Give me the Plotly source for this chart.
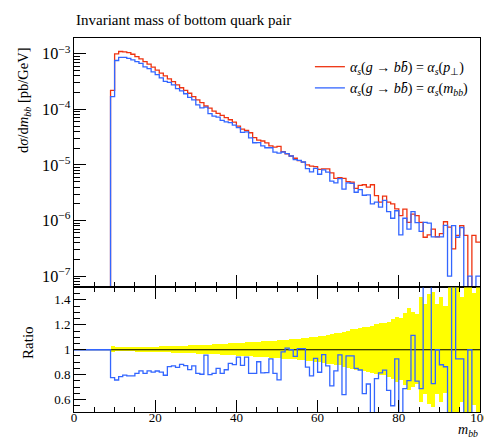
import plotly.graph_objects as go

FONT = "Liberation Serif"

# ---- data: 1 GeV bins from 0 to 100; bins 0..8 are empty ----
bin_edges = list(range(0, 101))
n_empty = 9

# alpha_s(g->bb) = alpha_s(pT)  (m_bb = 9 ... 99)
red_vals = [
    2.19e-4, 1.00e-3, 1.10e-3, 1.08e-3, 1.05e-3, 9.8e-4, 8.9e-4, 8.1e-4, 7.2e-4, 6.5e-4,
    5.75e-4, 5.1e-4, 4.5e-4, 4.0e-4, 3.55e-4, 3.16e-4, 2.75e-4, 2.45e-4, 2.19e-4, 1.95e-4,
    1.70e-4, 1.48e-4, 1.32e-4, 1.15e-4, 1.05e-4, 9.3e-5, 8.5e-5, 7.8e-5, 7.1e-5, 6.5e-5,
    5.9e-5, 5.0e-5, 4.4e-5, 4.2e-5, 3.8e-5, 3.1e-5, 2.8e-5, 2.7e-5, 2.5e-5, 2.2e-5,
    2.1e-5, 2.15e-5, 1.74e-5, 1.58e-5, 1.45e-5, 1.32e-5, 1.20e-5, 1.12e-5, 1.00e-5, 9.5e-6,
    9.3e-6, 8.3e-6, 8.5e-6, 8.5e-6, 7.2e-6, 5.75e-6, 5.9e-6, 5.75e-6, 5.0e-6, 4.9e-6,
    3.8e-6, 4.3e-6, 4.4e-6, 4.0e-6, 4.4e-6, 2.8e-6, 2.15e-6, 2.75e-6, 2.15e-6, 2.0e-6,
    1.62e-6, 1.23e-6, 1.6e-6, 9.3e-7, 1.3e-6, 1.23e-6, 9.3e-7, 5.0e-7, 5.5e-7, 7.0e-7,
    5.1e-7, 5.8e-7, 9.5e-7, 7.6e-7, 3.1e-7, 5.4e-7, 8.1e-7, 5.4e-7, 0.0, 5.4e-7,
    4.1e-7,
]

# alpha_s(g->bb) = alpha_s(m_bb)  (m_bb = 9 ... 99)
blue_vals = [
    1.70e-4, 7.57e-4, 8.62e-4, 8.59e-4, 8.30e-4, 7.74e-4, 7.21e-4, 6.72e-4, 5.83e-4, 5.40e-4,
    4.72e-4, 4.23e-4, 3.69e-4, 3.18e-4, 3.07e-4, 2.75e-4, 2.36e-4, 2.16e-4, 1.91e-4, 1.64e-4,
    1.48e-4, 1.20e-4, 1.06e-4, 1.10e-4, 8.4e-5, 7.53e-5, 7.23e-5, 6.32e-5, 5.96e-5, 5.79e-5,
    5.19e-5, 4.70e-5, 3.85e-5, 3.95e-5, 3.08e-5, 2.51e-5, 2.53e-5, 2.20e-5, 2.04e-5, 2.04e-5,
    1.70e-5, 1.63e-5, 1.71e-5, 1.60e-5, 1.45e-5, 1.25e-5, 1.21e-5, 1.13e-5, 8.6e-6, 7.5e-6,
    8.65e-6, 6.8e-6, 8.16e-6, 7.4e-6, 5.11e-6, 4.77e-6, 5.66e-6, 3.68e-6, 4.75e-6, 4.66e-6,
    3.23e-6, 3.6e-6, 2.85e-6, 2.9e-6, 2.0e-6, 2.15e-6, 1.75e-6, 2.3e-6, 1.45e-6, 1.1e-6,
    1.5e-6, 5.5e-7, 1.1e-6, 7.0e-7, 1.45e-6, 9.2e-7, 6.4e-7, 9.3e-7, 9.0e-7, 5.1e-7,
    5.1e-7, 5.1e-7, 8.2e-7, 1.0e-7, 8.1e-7, 5.0e-7, 7.5e-7, 0.0, 1.0e-7, 0.0,
    1.0e-7,
]

# relative stat. uncertainty of the reference (yellow band), m_bb = 9 ... 99
red_relerr = [
    0.025, 0.015, 0.015, 0.016, 0.016, 0.017, 0.018, 0.018, 0.019, 0.020,
    0.021, 0.022, 0.023, 0.024, 0.025, 0.026, 0.027, 0.028, 0.029, 0.031,
    0.032, 0.034, 0.035, 0.036, 0.038, 0.039, 0.041, 0.043, 0.045, 0.047,
    0.049, 0.051, 0.053, 0.055, 0.057, 0.059, 0.061, 0.063, 0.066, 0.068,
    0.070, 0.072, 0.075, 0.078, 0.080, 0.082, 0.085, 0.090, 0.092, 0.095,
    0.100, 0.105, 0.110, 0.115, 0.120, 0.130, 0.130, 0.140, 0.150, 0.160,
    0.165, 0.170, 0.175, 0.180, 0.190, 0.200, 0.210, 0.210, 0.220, 0.240,
    0.260, 0.250, 0.290, 0.330, 0.300, 0.280, 0.420, 0.360, 0.440, 0.460,
    0.360, 0.420, 0.350, 0.550, 0.700, 0.600, 0.420, 0.600, 0.600, 0.450,
    0.500,
]

RED = "#EE3311"
BLUE = "#3366FF"
TINY = 1e-12

red_all = [0.0] * n_empty + red_vals
blue_all = [0.0] * n_empty + blue_vals

def step_y(vals):
    v = [x if x > 0 else TINY for x in vals]
    return v + [v[-1]]

ratio = []
for r, b in zip(red_all, blue_all):
    ratio.append(b / r if r > 0 else 1.0)

centers = [m + 0.5 for m in range(n_empty, 100)]
band_base = [1 - e for e in red_relerr]
band_h = [2 * e for e in red_relerr]

fig = go.Figure()

leg1 = "<i>α<sub>s</sub></i>(<i>g</i> → <i>bb̄</i>) = <i>α<sub>s</sub></i>(<i>p</i><sub>⊥</sub>)"
leg2 = "<i>α<sub>s</sub></i>(<i>g</i> → <i>bb̄</i>) = <i>α<sub>s</sub></i>(<i>m<sub>bb</sub></i>)"

fig.add_trace(go.Scatter(x=bin_edges, y=step_y(red_all), mode="lines", line_shape="hv",
                         line=dict(color=RED, width=1.3), name=leg1, xaxis="x", yaxis="y"))
fig.add_trace(go.Scatter(x=bin_edges, y=step_y(blue_all), mode="lines", line_shape="hv",
                         line=dict(color=BLUE, width=1.3), name=leg2, xaxis="x", yaxis="y"))

# ratio panel
fig.add_trace(go.Bar(x=centers, base=band_base, y=band_h, width=1.0,
                     marker=dict(color="#FFFF00", line=dict(width=0)),
                     showlegend=False, xaxis="x2", yaxis="y2", hoverinfo="skip"))
fig.add_trace(go.Scatter(x=[0, 100], y=[1, 1], mode="lines",
                         line=dict(color="black", width=1.1),
                         showlegend=False, xaxis="x2", yaxis="y2"))
fig.add_trace(go.Scatter(x=bin_edges, y=ratio + [ratio[-1]], mode="lines", line_shape="hv",
                         line=dict(color=BLUE, width=1.3),
                         showlegend=False, xaxis="x2", yaxis="y2"))

axis_common = dict(showline=True, linecolor="black", linewidth=1, ticks="inside",
                   tickcolor="black", showgrid=False, zeroline=False,
                   tickfont=dict(family=FONT, size=13, color="black"))

fig.update_layout(
    width=492, height=440,
    margin=dict(l=66, r=10, t=30, b=36),
    paper_bgcolor="white", plot_bgcolor="white",
    font=dict(family=FONT, size=14, color="black"),
    barmode="overlay", bargap=0,
    xaxis=dict(axis_common, domain=[0, 1], range=[0, 100], anchor="y", mirror=True,
               showticklabels=False, tick0=0, dtick=20, ticklen=12,
               minor=dict(ticks="inside", dtick=5, ticklen=5, tickcolor="black")),
    yaxis=dict(axis_common, domain=[0.333, 1], type="log", range=[-7.204, -2.716],
               anchor="x", mirror=True, dtick=1, ticklen=12, exponentformat="power",
               minor=dict(ticks="inside", dtick="D1", ticklen=6, tickcolor="black")),
    xaxis2=dict(axis_common, domain=[0, 1], range=[0, 100], anchor="y2", mirror="allticks",
                tick0=0, dtick=20, ticklen=12, ticklabelstandoff=-7,
                minor=dict(ticks="inside", dtick=5, ticklen=5, tickcolor="black")),
    yaxis2=dict(axis_common, domain=[0, 0.333], range=[0.5, 1.5], anchor="x2", mirror=True,
                tickvals=[0.6, 0.8, 1.0, 1.2, 1.4], ticktext=["0.6", "0.8", "1", "1.2", "1.4"],
                ticklen=12,
                minor=dict(ticks="inside", tick0=0.5, dtick=0.05, ticklen=6, tickcolor="black")),
    legend=dict(x=0.985, xanchor="right", y=0.965, yanchor="top",
                bgcolor="rgba(0,0,0,0)", font=dict(family=FONT, size=14),
                tracegroupgap=0, itemwidth=30),
    showlegend=True,
)

fig.add_annotation(text="Invariant mass of bottom quark pair", xref="paper", yref="paper",
                   x=0, y=1.048, xanchor="left", yanchor="middle", showarrow=False,
                   font=dict(family=FONT, size=15))
fig.add_annotation(text="d<i>σ</i>/d<i>m<sub>bb</sub></i> [pb/GeV]", xref="paper", yref="paper",
                   x=-0.125, y=0.835, xanchor="center", yanchor="middle", textangle=-90,
                   showarrow=False, font=dict(family=FONT, size=14.5))
fig.add_annotation(text="Ratio", xref="paper", yref="paper",
                   x=-0.113, y=0.185, xanchor="center", yanchor="middle", textangle=-90,
                   showarrow=False, font=dict(family=FONT, size=15))
fig.add_annotation(text="<i>m<sub>bb</sub></i>", xref="paper", yref="paper",
                   x=1, y=-0.05, xanchor="right", yanchor="middle",
                   showarrow=False, font=dict(family=FONT, size=14))

fig.write_html("out.html")
